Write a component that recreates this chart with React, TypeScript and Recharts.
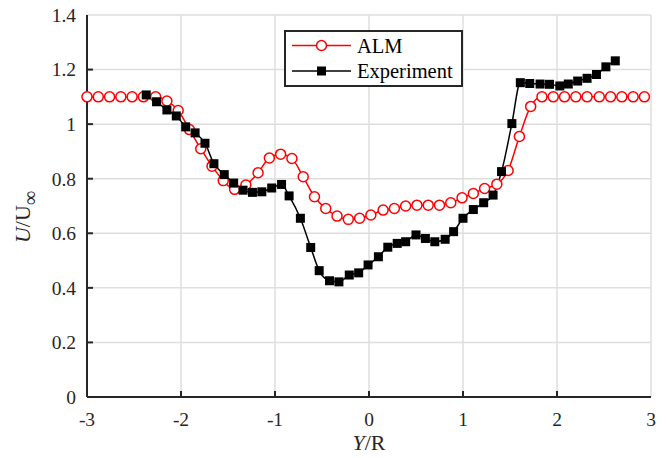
import React from 'react';
import { LineChart, Line, XAxis, YAxis, CartesianGrid, Legend } from 'recharts';

// Y/R positions and U/U_inf values
const almX = [
  -3.0, -2.88, -2.76, -2.64, -2.52, -2.4, -2.27, -2.15, -2.03, -1.91,
  -1.79, -1.67, -1.55, -1.43, -1.31, -1.18, -1.06, -0.94, -0.82, -0.7,
  -0.58, -0.46, -0.34, -0.22, -0.1, 0.02, 0.15, 0.27, 0.39, 0.51,
  0.63, 0.75, 0.87, 0.99, 1.11, 1.23, 1.36, 1.48, 1.6, 1.72,
  1.84, 1.96, 2.08, 2.2, 2.32, 2.45, 2.57, 2.69, 2.81, 2.93,
];
const almU = [
  1.1, 1.1, 1.1, 1.1, 1.1, 1.1, 1.1, 1.085, 1.05, 0.98,
  0.91, 0.846, 0.793, 0.761, 0.777, 0.822, 0.876, 0.89, 0.874, 0.807,
  0.734, 0.691, 0.663, 0.651, 0.655, 0.667, 0.685, 0.691, 0.7, 0.703,
  0.703, 0.703, 0.712, 0.73, 0.746, 0.764, 0.78, 0.83, 0.955, 1.065,
  1.1, 1.1, 1.1, 1.1, 1.1, 1.1, 1.1, 1.1, 1.1, 1.1,
];

const expX = [
  -2.37, -2.26, -2.15, -2.05, -1.95, -1.85, -1.745, -1.65, -1.54, -1.44,
  -1.34, -1.24, -1.14, -1.035, -0.93, -0.85, -0.73, -0.62, -0.53, -0.42,
  -0.32, -0.21, -0.11, -0.01, 0.1, 0.2, 0.3, 0.39, 0.5, 0.6,
  0.7, 0.81, 0.9, 1.0, 1.11, 1.22, 1.32, 1.41, 1.52, 1.61,
  1.71, 1.82, 1.92, 2.03, 2.12, 2.22, 2.32, 2.42, 2.52, 2.62,
];
const expU = [
  1.107, 1.082, 1.052, 1.03, 0.99, 0.968, 0.93, 0.855, 0.815, 0.784,
  0.758, 0.75, 0.752, 0.766, 0.779, 0.737, 0.655, 0.548, 0.463, 0.426,
  0.422, 0.447, 0.455, 0.484, 0.514, 0.549, 0.563, 0.569, 0.594, 0.581,
  0.569, 0.578, 0.606, 0.655, 0.687, 0.712, 0.74, 0.826, 1.002, 1.152,
  1.149, 1.147, 1.146, 1.14, 1.147, 1.158, 1.168, 1.182, 1.21, 1.232,
];

const xTicks = [-3, -2, -1, 0, 1, 2, 3];
const yTicks = [0, 0.2, 0.4, 0.6, 0.8, 1, 1.2, 1.4];

const almData = almX.map((x, i) => ({ x, u: almU[i] }));
const expData = expX.map((x, i) => ({ x, u: expU[i] }));

const FONT = '"Liberation Serif", "Times New Roman", serif';
const INK = '#262626';
const RED = '#ff0000';

// MATLAB style ticks: marks point into the plot box
const bottomTick = ({ x, y, payload }: any) => {
  const edge = payload.value === -3 || payload.value === 3;
  return (
    <g key={`b${payload.value}`}>
      {!edge && <line x1={x} y1={y} x2={x} y2={y - 6} stroke={INK} strokeWidth={2} />}
      <text x={x} y={y + 29} textAnchor="middle" fontFamily={FONT} fontSize={19.5} fill={INK}>
        {payload.value}
      </text>
    </g>
  );
};

const topTick = ({ x, y, payload }: any) => {
  if (payload.value === -3 || payload.value === 3) return <g key={`t${payload.value}`} />;
  return <line key={`t${payload.value}`} x1={x} y1={y} x2={x} y2={y + 6} stroke={INK} strokeWidth={2} />;
};

const leftTick = ({ x, y, payload }: any) => {
  const edge = payload.value === 0 || payload.value === 1.4;
  return (
    <g key={`l${payload.value}`}>
      {!edge && <line x1={x} y1={y} x2={x + 6} y2={y} stroke={INK} strokeWidth={2} />}
      <text x={x - 11} y={y} dy="0.35em" textAnchor="end" fontFamily={FONT} fontSize={19.5} fill={INK}>
        {payload.value}
      </text>
    </g>
  );
};

const rightTick = ({ x, y, payload }: any) => {
  if (payload.value === 0 || payload.value === 1.4) return <g key={`r${payload.value}`} />;
  return <line key={`r${payload.value}`} x1={x} y1={y} x2={x - 6} y2={y} stroke={INK} strokeWidth={2} />;
};

const almDot = ({ cx, cy, index }: any) => (
  <circle key={`a${index}`} cx={cx} cy={cy} r={5} fill="#fff" stroke={RED} strokeWidth={1.5} />
);

const expDot = ({ cx, cy, index }: any) => (
  <rect key={`e${index}`} x={cx - 4.5} y={cy - 4.5} width={9} height={9} fill="#000" />
);

function LegendBox() {
  return (
    <svg width={179} height={57} style={{ display: 'block' }}>
      <rect x={1} y={1} width={177} height={55} fill="#fff" stroke={INK} strokeWidth={2} />
      <line x1={8} y1={15.5} x2={67} y2={15.5} stroke={RED} strokeWidth={1.5} />
      <circle cx={37.5} cy={15.5} r={5} fill="#fff" stroke={RED} strokeWidth={1.5} />
      <text x={73} y={22.5} fontFamily={FONT} fontSize={20.5} fill="#000">ALM</text>
      <line x1={8} y1={41} x2={67} y2={41} stroke="#000" strokeWidth={1.5} />
      <rect x={33} y={36.5} width={9} height={9} fill="#000" />
      <text x={73} y={48} fontFamily={FONT} fontSize={20.5} fill="#000">Experiment</text>
    </svg>
  );
}

export default function App() {
  return (
    <div style={{ position: 'absolute', left: 0, top: 0, width: 669, height: 458, background: '#fff', fontFamily: FONT }}>
      <LineChart width={669} height={458} margin={{ top: 15, right: 18, bottom: 21, left: 27 }}>
        <CartesianGrid stroke="#dedede" strokeWidth={1.5} verticalValues={xTicks} horizontalValues={yTicks} />
        <XAxis
          dataKey="x"
          type="number"
          domain={[-3, 3]}
          ticks={xTicks}
          height={40}
          tickSize={0}
          tickMargin={0}
          tickLine={false}
          tick={bottomTick}
          axisLine={{ stroke: INK, strokeWidth: 2 }}
        />
        <XAxis
          xAxisId="top"
          orientation="top"
          dataKey="x"
          type="number"
          domain={[-3, 3]}
          ticks={xTicks}
          height={0}
          tickSize={0}
          tickMargin={0}
          tickLine={false}
          tick={topTick}
          axisLine={{ stroke: INK, strokeWidth: 2 }}
        />
        <YAxis
          type="number"
          domain={[0, 1.4]}
          ticks={yTicks}
          width={60}
          tickSize={0}
          tickMargin={0}
          tickLine={false}
          tick={leftTick}
          axisLine={{ stroke: INK, strokeWidth: 2 }}
        />
        <YAxis
          yAxisId="right"
          orientation="right"
          type="number"
          domain={[0, 1.4]}
          ticks={yTicks}
          width={0}
          tickSize={0}
          tickMargin={0}
          tickLine={false}
          tick={rightTick}
          axisLine={{ stroke: INK, strokeWidth: 2 }}
        />
        <Legend
          layout="vertical"
          verticalAlign="middle"
          align="center"
          content={<LegendBox />}
          wrapperStyle={{ position: 'absolute', left: 284, top: 30, width: 179, height: 57 }}
        />
        <Line
          data={almData}
          dataKey="u"
          name="ALM"
          type="monotone"
          stroke={RED}
          strokeWidth={1.5}
          dot={almDot}
          activeDot={false}
          isAnimationActive={false}
        />
        <Line
          data={expData}
          dataKey="u"
          name="Experiment"
          type="monotone"
          stroke="#000"
          strokeWidth={1.5}
          dot={expDot}
          activeDot={false}
          isAnimationActive={false}
        />
        <text
          transform="rotate(-90, 30, 217)"
          x={30}
          y={217}
          textAnchor="middle"
          fontFamily={FONT}
          fontSize={22}
          fill={INK}
        >
          <tspan fontStyle="italic">U</tspan>
          <tspan>/U</tspan>
          <tspan dy={7} fontSize={20}>∞</tspan>
        </text>
        <text x={369} y={450} textAnchor="middle" fontFamily={FONT} fontSize={22} fill={INK}>
          <tspan fontStyle="italic">Y</tspan>
          <tspan>/R</tspan>
        </text>
      </LineChart>
    </div>
  );
}
